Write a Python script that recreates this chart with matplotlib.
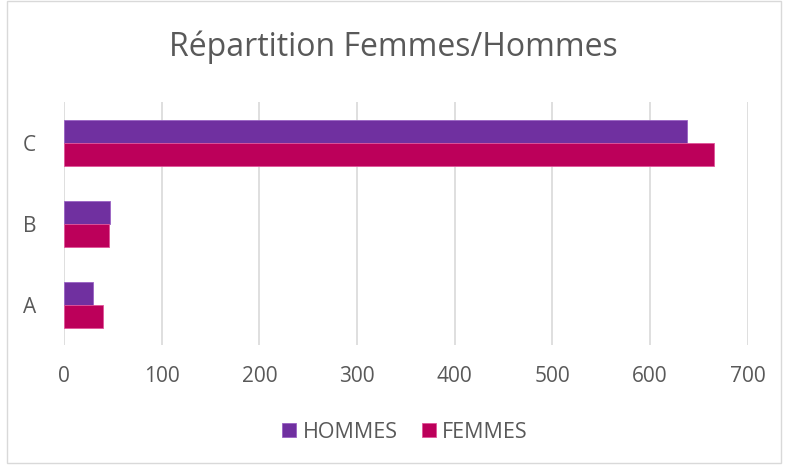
import numpy as np
import matplotlib.pyplot as plt

categories = ['A', 'B', 'C']
hommes = [30, 47, 638]
femmes = [40, 46, 665]
xticks = [0, 100, 200, 300, 400, 500, 600, 700]

plt.rcParams['font.family'] = ['Open Sans', 'DejaVu Sans']
grey = '#595959'

fig = plt.figure(figsize=(7.87, 4.68), dpi=100)
ax = fig.add_axes([0.0813, 0.262, 0.869, 0.519])

y = np.arange(len(categories))
h = 0.285
ax.barh(y + h / 2, hommes, height=h, color='#7030A0', edgecolor='#9A62C4', linewidth=0.6, label='HOMMES', zorder=3)
ax.barh(y - h / 2, femmes, height=h, color='#BC005A', edgecolor='#E0559A', linewidth=0.6, label='FEMMES', zorder=3)

ax.set_xlim(0, 700)
ax.set_ylim(-0.5, 2.5)
ax.set_xticks(xticks)
ax.set_yticks(y)
ax.set_yticklabels(categories)
ax.tick_params(colors=grey, labelsize=15, length=0)
ax.tick_params(axis='x', pad=15)
ax.tick_params(axis='y', pad=20)
ax.grid(axis='x', color='#D9D9D9', linewidth=1.2, zorder=0)
for s in ax.spines.values():
    s.set_visible(False)

fig.text(0.5, 0.898, 'Répartition Femmes/Hommes', ha='center', va='center', fontsize=23, color=grey)

# legend centred near pixel (405, 432)
lx = (405 / 787 - 0.0813) / 0.869
ly = ((468 - 432) / 468 - 0.262) / 0.519
ax.legend(loc='center', bbox_to_anchor=(lx, ly),
          ncol=2, frameon=False, fontsize=15.5, handlelength=0.65, handleheight=0.65, columnspacing=1.1,
          handletextpad=0.3, labelcolor=grey)

fig.add_artist(plt.Rectangle((7 / 787, 5 / 468), 774 / 787, 462 / 468, transform=fig.transFigure,
                             fill=False, edgecolor='#D9D9D9', linewidth=1))

fig.savefig('out.png', dpi=100)
